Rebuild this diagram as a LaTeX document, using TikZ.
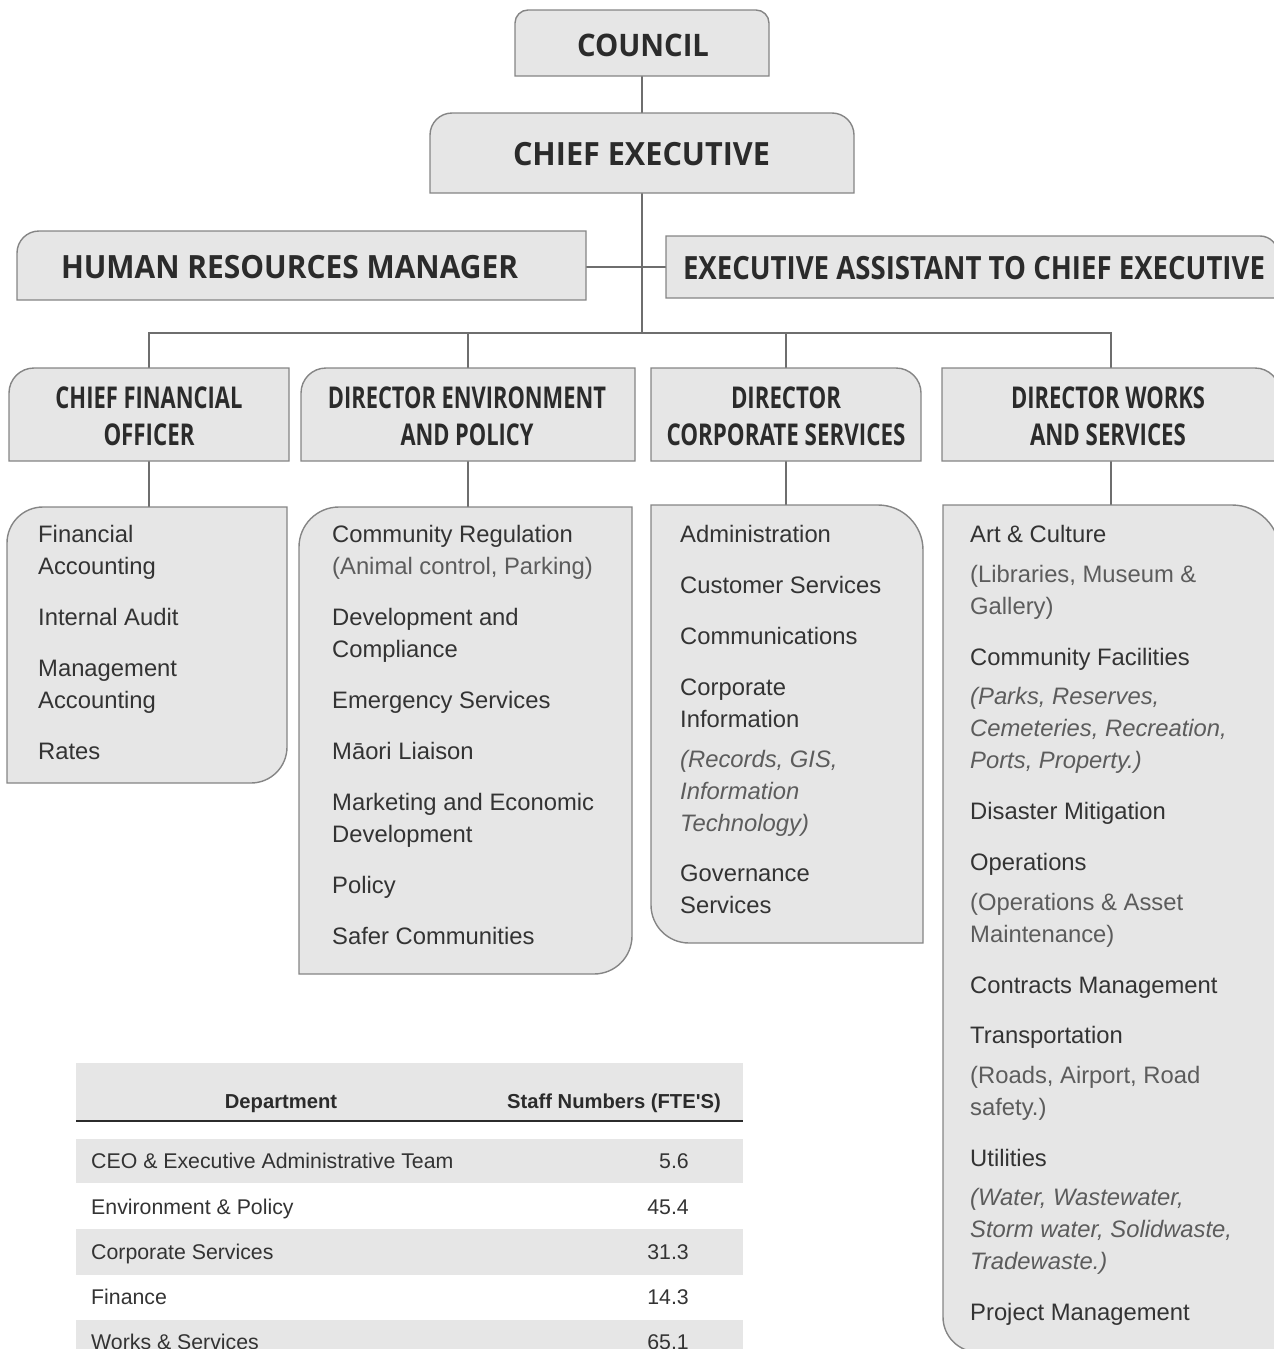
\documentclass[tikz,border=0pt]{standalone}
\usepackage{fontspec}
\setmainfont{Liberation Sans}
\newfontfamily\hfont{Open Sans}
\newfontfamily\rawfont{Liberation Sans}
\usepackage{graphicx}
\definecolor{boxfill}{HTML}{E6E6E6}
\definecolor{boxline}{HTML}{858585}
\definecolor{conncol}{HTML}{6E6E6E}
\definecolor{headtxt}{HTML}{2B2B2B}
\definecolor{bodytxt}{HTML}{333333}
\definecolor{subtxt}{HTML}{5C5C5C}
\newcommand\fitw[2]{\resizebox{#1pt}{\height}{#2}}
\newcommand\shT[5]{\draw[boxst] (#1,#4) -- (#1,#2+#5) arc[start angle=180,end angle=90,radius=#5pt] -- (#3-#5,#2) arc[start angle=90,end angle=0,radius=#5pt] -- (#3,#4) -- cycle;}
\newcommand\shTL[5]{\draw[boxst] (#1,#4) -- (#1,#2+#5) arc[start angle=180,end angle=90,radius=#5pt] -- (#3,#2) -- (#3,#4) -- cycle;}
\newcommand\shTR[5]{\draw[boxst] (#1,#4) -- (#1,#2) -- (#3-#5,#2) arc[start angle=90,end angle=0,radius=#5pt] -- (#3,#4) -- cycle;}
\newcommand\shTLBR[6]{\draw[boxst] (#1,#4) -- (#1,#2+#5) arc[start angle=180,end angle=90,radius=#5pt] -- (#3,#2) -- (#3,#4-#6) arc[start angle=0,end angle=-90,radius=#6pt] -- cycle;}
\newcommand\shTRBL[6]{\draw[boxst] (#1+#6,#4) arc[start angle=270,end angle=180,radius=#6pt] -- (#1,#2) -- (#3-#5,#2) arc[start angle=90,end angle=0,radius=#5pt] -- (#3,#4) -- cycle;}
\tikzset{
 boxst/.style={fill=boxfill, draw=boxline, line width=1.4pt},
 frm/.style={inner sep=0pt, draw=none},
 cn/.style={draw=conncol, line width=2pt},
 hd/.style={inner sep=0pt, text=headtxt, font=\hfont\bfseries\fontsize{30}{37}\selectfont, align=center},
 li/.style={anchor=base west, inner sep=0pt, yshift=-8.5pt, text=bodytxt, font=\fontsize{23.8}{28}\selectfont},
 sub/.style={li, text=subtxt},
 subit/.style={li, text=subtxt, font=\fontsize{23.8}{28}\selectfont\itshape},
 th/.style={anchor=base, inner sep=0pt, yshift=-7.2pt, text=headtxt, font=\rawfont\bfseries\fontsize{20.2}{24}\selectfont},
 td/.style={anchor=base west, inner sep=0pt, yshift=-7.6pt, text=bodytxt, font=\fontsize{21.3}{25}\selectfont},
 tn/.style={td, anchor=base east},
}
\begin{document}
\begin{tikzpicture}[x=1pt,y=-1pt]
\useasboundingbox (0,0) rectangle (1274,1349);
% frame nodes
\node[frm, minimum width=254pt, minimum height=66pt] (council) at (642,43) {};
\node[frm, minimum width=424pt, minimum height=80pt] (ce) at (642,153) {};
\node[frm, minimum width=569pt, minimum height=69pt] (hr) at (301.5,265.5) {};
\node[frm, minimum width=612pt, minimum height=62pt] (ea) at (972,267) {};
\node[frm, minimum width=280pt, minimum height=93pt] (cfo) at (149,414.5) {};
\node[frm, minimum width=334pt, minimum height=93pt] (dep) at (468,414.5) {};
\node[frm, minimum width=270pt, minimum height=93pt] (dcs) at (786,414.5) {};
\node[frm, minimum width=338pt, minimum height=93pt] (dws) at (1111,414.5) {};
\node[frm, minimum width=280pt, minimum height=276pt] (cfol) at (147,645) {};
\node[frm, minimum width=333pt, minimum height=467pt] (depl) at (465.5,740.5) {};
\node[frm, minimum width=272pt, minimum height=438pt] (dcsl) at (787,724) {};
\node[frm, minimum width=337pt, minimum height=847pt] (dwsl) at (1111.5,928.5) {};
\coordinate (bus) at (642,333);
% connectors
\draw[cn] (council.south) -- (council.south |- ce.north);
\draw[cn] (ce.south) -- (ce.south |- bus);
\draw[cn] (ea.west -| hr.east) -- (ea.west);
\draw[cn] (cfo.north) |- (dws.north |- bus) -- (dws.north);
\draw[cn] (dep.north) -- (dep.north |- bus);
\draw[cn] (dcs.north) -- (dcs.north |- bus);
\draw[cn] (cfo.south) -- (cfo.south |- cfol.north);
\draw[cn] (dep.south) -- (dep.south |- depl.north);
\draw[cn] (dcs.south) -- (dcs.south |- dcsl.north);
\draw[cn] (dws.south) -- (dws.south |- dwsl.north);
% box shapes
\shT{515}{10}{769}{76}{13}
\shT{430}{113}{854}{193}{22}
\shTL{17}{231}{586}{300}{22}
\shTR{666}{236}{1278}{298}{18}
\shTL{9}{368}{289}{461}{25}
\shTL{301}{368}{635}{461}{25}
\shTR{651}{368}{921}{461}{25}
\shTR{942}{368}{1280}{461}{25}
\shTLBR{7}{507}{287}{783}{36}{36}
\shTLBR{299}{507}{632}{974}{40}{38}
\shTRBL{651}{505}{923}{943}{45}{38}
\shTRBL{943}{505}{1280}{1352}{48}{35}
% headings
\node[hd, font=\hfont\bfseries\fontsize{31}{37}\selectfont] (tcouncil) at (643,45) {\fitw{132}{COUNCIL}};
\node[hd, font=\hfont\bfseries\fontsize{32}{37}\selectfont] (tce) at (641.5,154) {\fitw{257}{CHIEF EXECUTIVE}};
\node[hd, font=\hfont\bfseries\fontsize{32}{37}\selectfont] (thr) at (289.5,267) {\fitw{457}{HUMAN RESOURCES MANAGER}};
\node[hd, font=\hfont\bfseries\fontsize{32}{37}\selectfont] (tea) at (974,268) {\fitw{582}{EXECUTIVE ASSISTANT TO CHIEF EXECUTIVE}};
\node[hd] (tcfo) at (149,416.5) {\fitw{187}{CHIEF FINANCIAL}\\\fitw{91}{OFFICER}};
\node[hd] (tdep) at (467,416.5) {\fitw{278}{DIRECTOR ENVIRONMENT}\\\fitw{133}{AND POLICY}};
\node[hd] (tdcs) at (786,416.5) {\fitw{110}{DIRECTOR}\\\fitw{239}{CORPORATE SERVICES}};
\node[hd] (tdws) at (1108,416.5) {\fitw{194}{DIRECTOR WORKS}\\\fitw{156}{AND SERVICES}};
% CFO list
\node[li] (c1) at (38,534) {Financial};
\node[li] (c2) at (38,566) {Accounting};
\node[li] (c3) at (38,617) {Internal Audit};
\node[li] (c4) at (38,668) {Management};
\node[li] (c5) at (38,700) {Accounting};
\node[li] (c6) at (38,751) {Rates};
% DEP list
\node[li] (e1) at (332,534) {Community Regulation};
\node[sub] (e2) at (332,566) {(Animal control, Parking)};
\node[li] (e3) at (332,617) {Development and};
\node[li] (e4) at (332,649) {Compliance};
\node[li] (e5) at (332,700) {Emergency Services};
\node[li] (e6) at (332,751) {Māori Liaison};
\node[li] (e7) at (332,802) {Marketing and Economic};
\node[li] (e8) at (332,834) {Development};
\node[li] (e9) at (332,885) {Policy};
\node[li] (e10) at (332,936) {Safer Communities};
% DCS list
\node[li] (d1) at (680,534) {Administration};
\node[li] (d2) at (680,585) {Customer Services};
\node[li] (d3) at (680,636) {Communications};
\node[li] (d4) at (680,687) {Corporate};
\node[li] (d5) at (680,719) {Information};
\node[subit] (d6) at (680,759) {(Records, GIS,};
\node[subit] (d7) at (680,791) {Information};
\node[subit] (d8) at (680,823) {Technology)};
\node[li] (d9) at (680,873) {Governance};
\node[li] (d10) at (680,905) {Services};
% DWS list
\node[li] (w1) at (970,534) {Art \& Culture};
\node[sub] (w2) at (970,574) {(Libraries, Museum \&};
\node[sub] (w3) at (970,606) {Gallery)};
\node[li] (w4) at (970,657) {Community Facilities};
\node[subit] (w5) at (970,696) {(Parks, Reserves,};
\node[subit] (w6) at (970,728) {Cemeteries, Recreation,};
\node[subit] (w7) at (970,760) {Ports, Property.)};
\node[li] (w8) at (970,811) {Disaster Mitigation};
\node[li] (w9) at (970,862) {Operations};
\node[sub] (w10) at (970,902) {(Operations \& Asset};
\node[sub] (w11) at (970,934) {Maintenance)};
\node[li] (w12) at (970,985) {Contracts Management};
\node[li] (w13) at (970,1035) {Transportation};
\node[sub] (w14) at (970,1075) {(Roads, Airport, Road};
\node[sub] (w15) at (970,1107) {safety.)};
\node[li] (w16) at (970,1158) {Utilities};
\node[subit] (w17) at (970,1197) {(Water, Wastewater,};
\node[subit] (w18) at (970,1229) {Storm water, Solidwaste,};
\node[subit] (w19) at (970,1261) {Tradewaste.)};
\node[li] (w20) at (970,1312) {Project Management};
% table
\fill[boxfill] (76,1063) rectangle (743,1120);
\draw[draw=headtxt, line width=1.5pt] (76,1121) -- (743,1121);
\fill[boxfill] (76,1139) rectangle (743,1183);
\fill[boxfill] (76,1229) rectangle (743,1275);
\fill[boxfill] (76,1320) rectangle (743,1366);
\node[th] (hdept) at (281,1101) {Department};
\node[th] (hstaff) at (614,1101) {Staff Numbers (FTE'S)};
\node[td] (r1) at (91,1161) {CEO \& Executive Administrative Team};
\node[tn] (n1) at (689,1161) {5.6};
\node[td] (r2) at (91,1207) {Environment \& Policy};
\node[tn] (n2) at (689,1207) {45.4};
\node[td] (r3) at (91,1252) {Corporate Services};
\node[tn] (n3) at (689,1252) {31.3};
\node[td] (r4) at (91,1297) {Finance};
\node[tn] (n4) at (689,1297) {14.3};
\node[td] (r5) at (91,1342) {Works \& Services};
\node[tn] (n5) at (689,1342) {65.1};
\end{tikzpicture}
\end{document}
